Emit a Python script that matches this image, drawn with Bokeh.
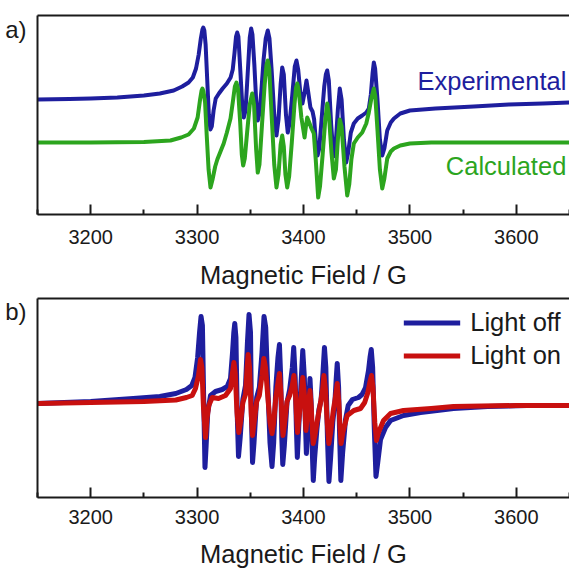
from bokeh.plotting import figure
from bokeh.models import Range1d, LinearAxis, FixedTicker, Label, Legend, LegendItem
from bokeh.layouts import column
from bokeh.embed import file_html
from bokeh.resources import INLINE

# ---------------- data (arbitrary intensity units) ----------------
FIELD_TICKS = [3200, 3300, 3400, 3500, 3600]
FIELD_MINOR = [3150, 3250, 3350, 3450, 3550, 3650]
X_LABEL = "Magnetic Field / G"

exp_field = [3150, 3180, 3200, 3225, 3250, 3265, 3278, 3286, 3292, 3296, 3299, 3301.5, 3303.5, 3305, 3305.8,
             3306.8, 3308, 3309.5, 3311, 3312.5, 3313.8, 3315.5, 3317.5, 3320.5, 3324, 3328, 3331.5, 3333.5,
             3335.2, 3336.6, 3337.7, 3338.8, 3340.3, 3342.3, 3343.9, 3345.5, 3347.5, 3349.5, 3350.8, 3352,
             3353.8, 3355.7, 3357, 3358.6, 3360.5, 3362.5, 3364.5, 3366.4, 3368, 3370, 3372.5, 3374.6, 3376.5,
             3378.5, 3380, 3381.5, 3383.5, 3385.2, 3387, 3389.5, 3391.8, 3393.4, 3395, 3397, 3399, 3401,
             3402.8, 3404.5, 3406.5, 3408.5, 3410, 3411.8, 3413.2, 3414.8, 3417, 3419.5, 3421, 3422.3, 3423.8,
             3426, 3428.2, 3430, 3432.3, 3434.1, 3435.8, 3438, 3440.1, 3442, 3444.5, 3447.3, 3451, 3455.2,
             3459, 3461.4, 3463.3, 3465, 3466.1, 3467.3, 3469.5, 3471.8, 3474, 3476, 3478.7, 3482, 3485, 3491,
             3500, 3524, 3560, 3593, 3625, 3650]
exp_signal = [115, 115.5, 116, 117, 119, 121, 124, 128, 132, 137, 146, 160, 176, 185, 187,
              184, 170, 135, 100, 85, 88, 104, 116, 121, 126, 131, 137, 145,
              162, 178, 182, 178, 150, 112, 97, 104, 140, 177, 186, 180,
              150, 110, 94, 101, 125, 155, 176, 184, 176, 145, 100, 79, 95,
              130, 147, 140, 100, 82, 92, 120, 148, 154, 145, 122, 111, 122,
              134, 122, 107, 103, 95, 70, 59, 66, 95, 128, 140, 144, 134,
              90, 58, 66, 105, 126, 115, 75, 52, 62, 82, 91, 96, 99,
              102, 106, 120, 142, 152, 146, 115, 75, 59, 66, 84, 92, 96, 101,
              104, 106, 108, 110, 111, 112]

calc_field = [3150, 3200, 3250, 3275, 3285, 3292, 3297, 3300.5, 3302.8, 3304.2, 3305, 3306, 3307.5, 3309,
              3310.8, 3312.6, 3314.5, 3317, 3319, 3322, 3325, 3328, 3331.4, 3333.5, 3335.5, 3337, 3338.5,
              3340.5, 3342, 3343.3, 3344.8, 3347, 3349.5, 3351.8, 3353.5, 3355.5, 3357, 3358.6, 3361, 3363.5,
              3365.3, 3366.4, 3367.8, 3370, 3372.5, 3374.6, 3376.5, 3378.5, 3380, 3381.5, 3383, 3384.7,
              3386.5, 3389, 3391.5, 3393, 3394.1, 3395.5, 3398, 3401, 3402.5, 3403.5, 3405, 3407.5, 3409.7,
              3411.5, 3413.8, 3415.5, 3418, 3420.5, 3422.3, 3424, 3426.3, 3428.5, 3430.5, 3432.5, 3434.1,
              3435.8, 3438.5, 3441.1, 3443, 3445, 3447.3, 3451, 3455.2, 3459, 3461.4, 3463.8, 3466.1, 3467.5,
              3469.5, 3471.8, 3474, 3476, 3478.7, 3482, 3485, 3491, 3500, 3520, 3560, 3650]
calc_signal = [72, 72, 72.5, 74, 77, 80, 86, 97, 115, 124, 126, 123, 112, 80,
               45, 27, 35, 48, 55, 63, 71, 82, 96, 112, 128, 132, 125,
               92, 60, 49, 56, 82, 110, 121, 110, 65, 42, 50, 90, 130,
               150, 154, 146, 100, 50, 27, 40, 70, 79, 68, 40, 27,
               38, 72, 110, 127, 131, 124, 97, 77, 90, 97, 93, 86, 81,
               55, 17, 28, 60, 95, 111, 98, 62, 36, 45, 78, 95,
               88, 48, 19, 30, 55, 71, 77, 82, 91, 102, 116, 126, 118,
               85, 45, 26, 36, 56, 63, 66, 69, 71, 72, 72, 72]

off_field = [3150, 3200, 3240, 3265, 3280, 3290, 3295, 3298, 3300.5, 3302.3, 3303.7, 3305, 3306, 3307.4,
             3308.5, 3310, 3312.6, 3317.3, 3323.6, 3328.3, 3331.4, 3333.3, 3334.5, 3335.4, 3336.5, 3337.8,
             3338.9, 3340.5, 3343, 3345.5, 3347.3, 3348.8, 3350.2, 3351.1, 3352.1, 3353.5, 3356, 3358.5, 3361,
             3362.9, 3364.5, 3366.5, 3368.5, 3370.4, 3372, 3374, 3376, 3377.4, 3378.6, 3379.6, 3380.5, 3382,
             3384.5, 3387, 3389.5, 3390.8, 3392.2, 3393.3, 3394.2, 3395.5, 3397.5, 3399.3, 3400.8, 3401.8,
             3402.7, 3404, 3405.2, 3406.1, 3407.2, 3408.3, 3409.2, 3410.5, 3412.5, 3414.5, 3416.5, 3418.3,
             3419.7, 3421, 3422.5, 3423.9, 3425.5, 3427.5, 3429.5, 3430.7, 3431.7, 3433, 3434, 3435.1, 3436.8,
             3439.5, 3442, 3446, 3451.7, 3455, 3458.3, 3461.1, 3462.5, 3463.7, 3465, 3466.5, 3468.1, 3469.8,
             3472.4, 3477.1, 3481.8, 3494, 3510, 3541, 3573, 3610, 3650]
off_signal = [94, 96, 99, 101, 104, 108, 112, 120, 140, 165, 181, 172, 110, 30,
              52, 85, 102, 106, 108, 111, 119, 145, 165, 174, 160, 80,
              41, 60, 98, 112, 155, 183, 165, 80, 35, 55, 100, 110, 145,
              181, 170, 110, 55, 31, 55, 110, 140, 153, 120, 60, 33, 52,
              95, 108, 130, 150, 120, 70, 40, 70, 110, 147, 120, 75,
              44, 70, 100, 119, 95, 45, 17, 40, 67, 88, 97, 125,
              150, 130, 60, 16, 40, 75, 95, 118, 134, 110, 60, 17, 45,
              78, 92, 98, 100, 103, 110, 127, 140, 148, 130, 70, 21, 35,
              58, 70, 77, 82, 85, 89, 91, 92, 92]

on_field = [3150, 3200, 3250, 3280, 3290, 3295.4, 3298.5, 3301.3, 3303.2, 3304.5, 3306, 3307.9, 3309.2, 3311,
            3314.2, 3320.1, 3326.7, 3331.4, 3333.3, 3334.6, 3335.8, 3337.5, 3339.2, 3340.8, 3343, 3345.5, 3347,
            3348, 3349.3, 3350.8, 3352.1, 3353.6, 3356, 3358.5, 3361, 3362.7, 3364.3, 3366.5, 3368.5, 3370.4,
            3372, 3374, 3376, 3377.4, 3378.7, 3379.8, 3380.7, 3382, 3384.5, 3387, 3389.5, 3391, 3392.4, 3393.5,
            3394.4, 3395.8, 3397.7, 3399.3, 3400.8, 3401.6, 3402.3, 3403.7, 3405, 3406.1, 3407.3, 3408.3,
            3409.1, 3410.7, 3413, 3416, 3418, 3419.2, 3420.6, 3422.3, 3423.8, 3425.5, 3428, 3430, 3431.7,
            3433.2, 3434.3, 3435.3, 3437, 3441.1, 3447.3, 3453.6, 3457.5, 3460.5, 3462.5, 3463.9, 3465.3, 3467,
            3468.6, 3470.5, 3475.2, 3481.8, 3494, 3520, 3541, 3600, 3650]
on_signal = [94, 95, 96, 97.5, 100, 102, 109, 122, 138, 130, 90, 60, 78, 92,
             100, 99, 102, 109, 125, 135, 125, 85, 65, 75, 95, 103, 130,
             143, 130, 85, 62, 75, 96, 102, 122, 139, 130, 100, 75, 64,
             75, 100, 115, 124, 105, 78, 62, 72, 96, 102, 112, 122, 105, 80,
             65, 80, 102, 120, 103, 82, 67, 82, 97, 107, 90, 67,
             54, 62, 77, 95, 108, 122, 108, 75, 54, 65, 87, 100, 114,
             95, 70, 54, 65, 82, 87, 89, 95, 105, 116, 122, 110, 75,
             57, 65, 77, 84, 87, 89, 91, 92, 92]

# ---------------- styling ----------------
FONT = "Liberation Sans"
BLUE = "#1E1E9E"
GREEN = "#2CA51E"
RED = "#C8100F"
INK = "#1a1a1a"


def make_panel(height, top, bottom, tag, tag_y, tick_standoff, label_standoff):
    p = figure(width=569, height=height, x_range=Range1d(3150, 3650), y_range=Range1d(0, 199),
               output_backend="svg", toolbar_location=None, x_axis_type=None, y_axis_type=None,
               min_border_left=37, min_border_right=0, min_border_top=top, min_border_bottom=bottom)
    p.outline_line_color = None
    p.grid.visible = False
    p.background_fill_color = "white"

    xa = LinearAxis(ticker=FixedTicker(ticks=FIELD_TICKS, minor_ticks=FIELD_MINOR))
    xa.axis_line_width = 2
    xa.axis_line_color = INK
    xa.major_tick_in = 10
    xa.major_tick_out = 0
    xa.minor_tick_in = 5
    xa.minor_tick_out = 0
    xa.major_tick_line_width = 2
    xa.minor_tick_line_width = 2
    xa.major_tick_line_color = INK
    xa.minor_tick_line_color = INK
    xa.major_label_text_font = FONT
    xa.major_label_text_font_size = "20px"
    xa.major_label_text_color = INK
    xa.major_label_standoff = tick_standoff
    xa.axis_label = X_LABEL
    xa.axis_label_text_font = FONT
    xa.axis_label_text_font_size = "25.5px"
    xa.axis_label_text_font_style = "normal"
    xa.axis_label_text_color = INK
    xa.axis_label_standoff = label_standoff
    p.add_layout(xa, "below")

    # left border carrying the panel tag, and a plain top border
    ya = LinearAxis(ticker=FixedTicker(ticks=[tag_y]), major_label_overrides={tag_y: tag})
    ya.axis_line_width = 2
    ya.axis_line_color = INK
    ya.major_tick_line_color = None
    ya.minor_tick_line_color = None
    ya.major_label_text_font = FONT
    ya.major_label_text_font_size = "24px"
    ya.major_label_text_color = INK
    ya.major_label_standoff = 5
    p.add_layout(ya, "left")

    ta = LinearAxis(ticker=FixedTicker(ticks=[]))
    ta.axis_line_width = 2
    ta.axis_line_color = INK
    ta.major_tick_line_color = None
    ta.minor_tick_line_color = None
    ta.major_label_text_font_size = "0px"
    ta.major_label_standoff = 0
    p.add_layout(ta, "above")
    return p


pa = make_panel(294, 15, 80, "a)", 185, 15, 14)
pa.line(exp_field, exp_signal, line_color=BLUE, line_width=4, line_join="round")
pa.line(calc_field, calc_signal, line_color=GREEN, line_width=4, line_join="round")
pa.add_layout(Label(x=3647, y=134, text="Experimental", text_font=FONT, text_font_size="25.5px",
                    text_color=BLUE, text_align="right", text_baseline="alphabetic"))
pa.add_layout(Label(x=3647, y=49, text="Calculated", text_font=FONT, text_font_size="25.5px",
                    text_color=GREEN, text_align="right", text_baseline="alphabetic"))

pb = make_panel(276, 4, 73, "b)", 186, 12, 13)
r_off = pb.line(off_field, off_signal, line_color=BLUE, line_width=5, line_join="round")
r_on = pb.line(on_field, on_signal, line_color=RED, line_width=5, line_join="round")
legend = Legend(items=[LegendItem(label="Light off", renderers=[r_off]),
                       LegendItem(label="Light on", renderers=[r_on])],
                location="top_right", border_line_color=None, background_fill_alpha=0,
                label_text_font=FONT, label_text_font_size="25.5px", label_text_color=INK,
                glyph_width=57, glyph_height=33, label_height=33, spacing=0, padding=13,
                margin=8, label_standoff=10)
pb.add_layout(legend)

layout = column(pa, pb, spacing=0)
open("out.html", "w").write(file_html(layout, INLINE))
